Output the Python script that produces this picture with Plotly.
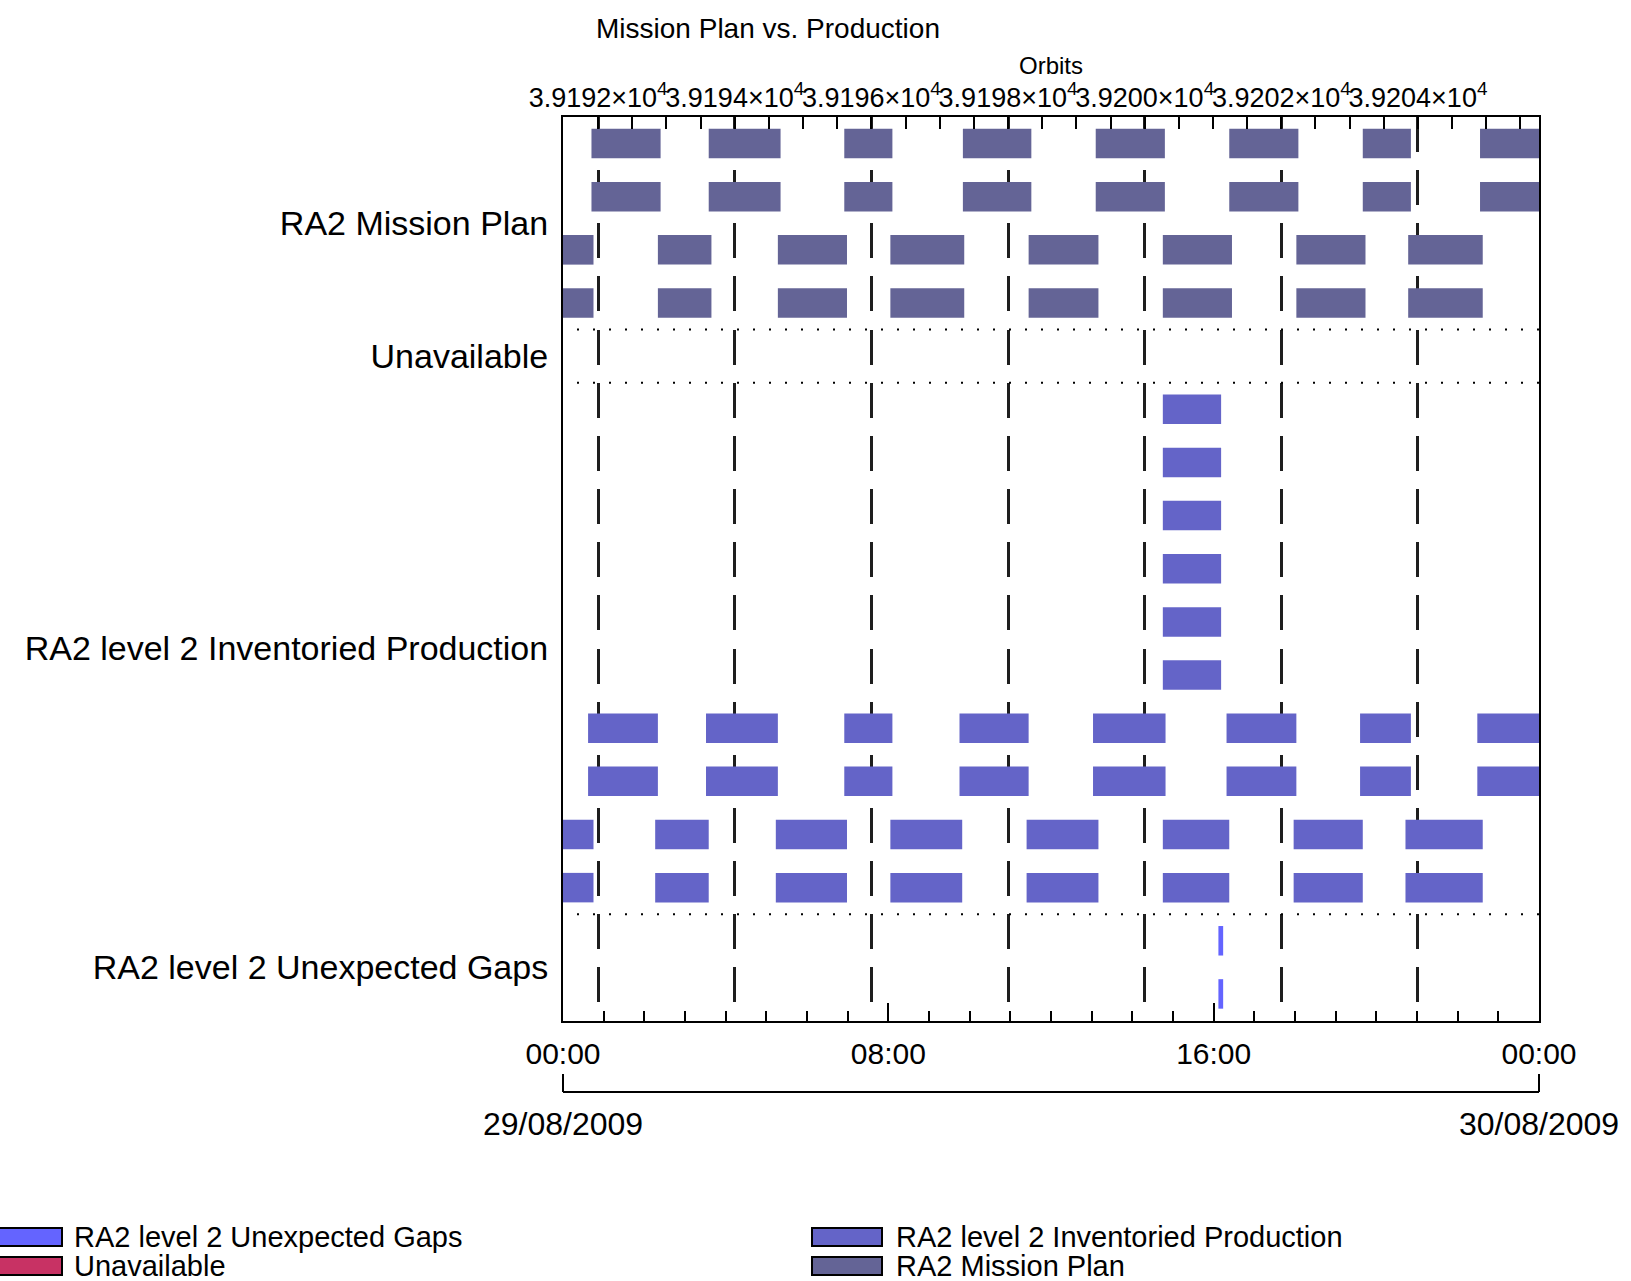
import datetime as dt
import plotly.graph_objects as go

# ---------------------------------------------------------------------------
# Data: acquisition windows on 29/08/2009 (HH:MM), one list per track pattern
# ---------------------------------------------------------------------------
DAY = dt.datetime(2009, 8, 29)

mission_plan_asc = [("00:42", "02:24"), ("03:35", "05:21"), ("06:55", "08:06"),
                    ("09:50", "11:31"), ("13:06", "14:48"), ("16:23", "18:05"),
                    ("19:40", "20:51"), ("22:33", "24:00")]
mission_plan_desc = [("00:00", "00:45"), ("02:20", "03:39"), ("05:17", "06:59"),
                     ("08:03", "09:52"), ("11:27", "13:10"), ("14:45", "16:27"),
                     ("18:02", "19:44"), ("20:47", "22:37")]
inventoried_partial = [("14:45", "16:11")]
inventoried_asc = [("00:37", "02:20"), ("03:31", "05:17"), ("06:55", "08:06"),
                   ("09:45", "11:27"), ("13:02", "14:49"), ("16:19", "18:02"),
                   ("19:36", "20:51"), ("22:29", "24:00")]
inventoried_desc = [("00:00", "00:45"), ("02:16", "03:35"), ("05:14", "06:59"),
                    ("08:03", "09:49"), ("11:24", "13:10"), ("14:45", "16:23"),
                    ("17:58", "19:40"), ("20:43", "22:37")]
unexpected_gaps = [("16:07", "16:14")]
unavailable = []

categories = ["RA2 Mission Plan", "Unavailable",
              "RA2 level 2 Inventoried Production", "RA2 level 2 Unexpected Gaps"]

tracks = {
    "RA2 Mission Plan": [mission_plan_asc, mission_plan_asc,
                         mission_plan_desc, mission_plan_desc],
    "Unavailable": [unavailable],
    "RA2 level 2 Inventoried Production": [inventoried_partial] * 6 + [
        inventoried_asc, inventoried_asc, inventoried_desc, inventoried_desc],
    "RA2 level 2 Unexpected Gaps": [unexpected_gaps, unexpected_gaps],
}

colors = {
    "RA2 Mission Plan": "#646496",
    "Unavailable": "#c83264",
    "RA2 level 2 Inventoried Production": "#6464c8",
    "RA2 level 2 Unexpected Gaps": "#6464ff",
}

legend_columns = [["RA2 level 2 Unexpected Gaps", "Unavailable"],
                  ["RA2 level 2 Inventoried Production", "RA2 Mission Plan"]]

# Orbit numbering along the top axis
orbit_ticks = [39192, 39194, 39196, 39198, 39200, 39202, 39204]
orbit_ref = 39192
orbit_ref_minutes = 51.83      # start of orbit 39192, minutes after midnight
orbit_period_minutes = 100.8

# ---------------------------------------------------------------------------
# Page geometry
# ---------------------------------------------------------------------------
W, H = 1631, 1281
ML, MR, MT, MB = 563, 92, 117, 189
PAPER_W = W - ML - MR
PAPER_H = H - MT - MB
PLOT_BOTTOM_PX = 1020.5
Y_DOMAIN_LOW = (H - MB - PLOT_BOTTOM_PX) / PAPER_H


def px_x(px):
    return (px - ML) / PAPER_W


def px_y(py):
    return (H - MB - py) / PAPER_H


def to_dt(hhmm):
    h, m = hhmm.split(":")
    return DAY + dt.timedelta(hours=int(h), minutes=int(m))


# ---------------------------------------------------------------------------
# Bars: one horizontal bar trace per category, one row per track
# ---------------------------------------------------------------------------
fig = go.Figure()

row = 0
group_centers = []
separators = []
for cat in categories:
    first = row
    ys, bases, lens = [], [], []
    for track in tracks[cat]:
        for start, end in track:
            s, e = to_dt(start), to_dt(end)
            ys.append(row + 0.5)
            bases.append(s)
            lens.append((e - s).total_seconds() * 1000.0)
        row += 1
    group_centers.append((first + row) / 2.0)
    separators.append(row)
    fig.add_trace(go.Bar(
        orientation="h", y=ys, x=lens, base=bases, width=0.555,
        marker=dict(color=colors[cat], line=dict(width=0)),
        name=cat, showlegend=False, hoverinfo="skip",
    ))
n_rows = row
separators = separators[:-1]

orbit_lo = orbit_ref - orbit_ref_minutes / orbit_period_minutes
orbit_hi = orbit_ref + (24 * 60 - orbit_ref_minutes) / orbit_period_minutes

# anchor traces so the orbit axis and the date axis are drawn
fig.add_trace(go.Scatter(x=[orbit_ticks[0], orbit_ticks[-1]], y=[0.5, 0.5],
                         xaxis="x2", yaxis="y", mode="markers",
                         marker=dict(opacity=0), showlegend=False,
                         hoverinfo="skip"))
fig.add_trace(go.Scatter(x=[DAY, DAY + dt.timedelta(days=1)], y=[0.5, 0.5],
                         xaxis="x3", yaxis="y", mode="markers",
                         marker=dict(opacity=0), showlegend=False,
                         hoverinfo="skip"))

# dashed orbit grid: one dash per row
row_h = PAPER_H * (1 - Y_DOMAIN_LOW) / n_rows
dash_len = 35
grid_dash = f"{dash_len}px,{row_h - dash_len:.2f}px"

# dotted separators between the categories
for s in separators:
    fig.add_shape(type="line", xref="paper", yref="y", x0=0, x1=1, y0=s, y1=s,
                  line=dict(color="black", width=2, dash="0px,14px,2px,0px"),
                  layer="above")

# end caps of the date bracket below the time axis
for xp in (0, 1):
    fig.add_shape(type="line", xref="paper", yref="paper", x0=xp, x1=xp,
                  y0=0, y1=px_y(1074), line=dict(color="black", width=2))

# title of the orbit axis
fig.add_annotation(xref="paper", yref="paper", x=0.5, y=px_y(66), text="Orbits",
                   showarrow=False, xanchor="center", yanchor="middle",
                   font=dict(size=24, color="black"))

# legend drawn as swatches + labels below the chart
legend_rows_px = [1237, 1266]
legend_cols_px = [(0, 62, 72), (814, 882, 894)]
for (x0, x1, tx), col in zip(legend_cols_px, legend_columns):
    for cy, cat in zip(legend_rows_px, col):
        fig.add_shape(type="rect", xref="paper", yref="paper",
                      x0=px_x(x0 - 2), x1=px_x(x1), y0=px_y(cy - 9), y1=px_y(cy + 9),
                      fillcolor=colors[cat], line=dict(color="black", width=2))
        fig.add_annotation(xref="paper", yref="paper", x=px_x(tx), y=px_y(cy),
                           text=cat, showarrow=False, xanchor="left",
                           yanchor="middle", font=dict(size=29, color="black"))

day_range = [DAY, DAY + dt.timedelta(days=1)]

fig.update_layout(
    width=W, height=H,
    margin=dict(l=ML, r=MR, t=MT, b=MB, autoexpand=False),
    plot_bgcolor="white", paper_bgcolor="white",
    font=dict(family="Liberation Sans, Arial, sans-serif", color="black"),
    title=dict(text="Mission Plan vs. Production", xref="container", yref="container",
               x=768 / W, xanchor="center", y=1 - 28 / H, yanchor="middle",
               font=dict(size=28, color="black")),
    barmode="overlay",
    xaxis=dict(
        type="date", range=day_range, anchor="y",
        tick0=DAY, dtick=8 * 3600 * 1000, tickformat="%H:%M", tickangle=0,
        ticks="inside", ticklen=18, tickwidth=2, tickcolor="black",
        minor=dict(dtick=3600 * 1000, ticks="inside", ticklen=10, tickwidth=2,
                   tickcolor="black", showgrid=False),
        showline=True, linewidth=2, linecolor="black", mirror=True,
        showgrid=False, zeroline=False,
        tickfont=dict(size=30), ticklabelstandoff=5,
    ),
    xaxis2=dict(
        overlaying="x", side="top", anchor="y", range=[orbit_lo, orbit_hi],
        tickvals=orbit_ticks, tickangle=0,
        ticktext=[f"{v / 1e4:.4f}×10<sup>4</sup>" for v in orbit_ticks],
        ticks="inside", ticklen=12, tickwidth=2, tickcolor="black",
        minor=dict(tick0=orbit_ref, dtick=0.5, ticks="inside", ticklen=12,
                   tickwidth=2, tickcolor="black", showgrid=False),
        showgrid=True, gridcolor="#1e1e1e", gridwidth=2.5, griddash=grid_dash,
        showline=False, zeroline=False,
        tickfont=dict(size=27), ticklabelstandoff=4,
    ),
    xaxis3=dict(
        overlaying="x", anchor="free", position=0, side="bottom",
        type="date", range=day_range, tickangle=0,
        tickvals=day_range, tickformat="%d/%m/%Y",
        ticks="", showline=True, linewidth=2, linecolor="black",
        showgrid=False, zeroline=False,
        tickfont=dict(size=32), ticklabelstandoff=4,
    ),
    yaxis=dict(
        domain=[Y_DOMAIN_LOW, 1], range=[n_rows, 0],
        tickvals=group_centers, ticktext=categories, ticks="",
        showline=True, linewidth=2, linecolor="black", mirror=True,
        showgrid=False, zeroline=False,
        tickfont=dict(size=34), ticklabelstandoff=6,
    ),
)

fig.write_html("out.html")
